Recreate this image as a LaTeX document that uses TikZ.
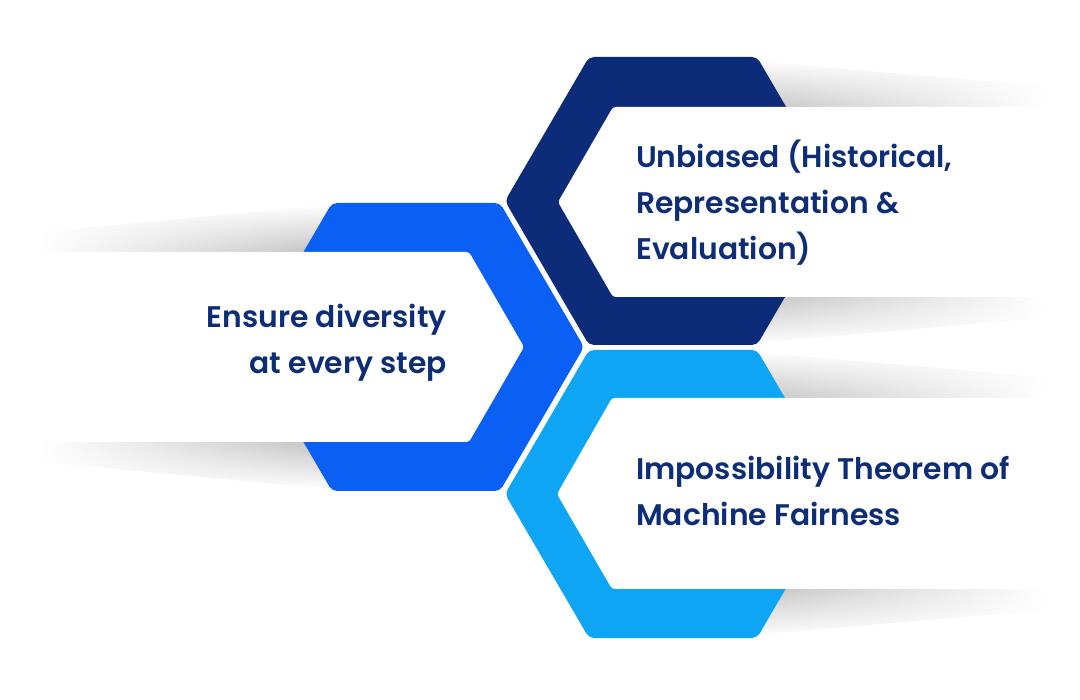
\documentclass[tikz,border=0pt]{standalone}
\usepackage{fontspec}
\usetikzlibrary{fadings}
\IfFontExistsTF{Poppins SemiBold}{\newfontfamily\lblfont{Poppins SemiBold}\newcommand\lblweight{}}{\newfontfamily\lblfont{Poppins}\newcommand\lblweight{\bfseries}}
\definecolor{hexdark}{RGB}{12,44,122}
\definecolor{hexblue}{RGB}{10,96,245}
\definecolor{hexlight}{RGB}{14,166,244}
\definecolor{txtnavy}{RGB}{13,45,118}
\tikzfading[name=shadowup, top color=transparent!100, middle color=transparent!70, bottom color=transparent!25]
\tikzfading[name=shadowdown, top color=transparent!25, middle color=transparent!70, bottom color=transparent!100]
\begin{document}
\begin{tikzpicture}[x=1pt,y=-1pt,
  hexa/.style={rounded corners=5pt},
  banner/.style={fill=white, rounded corners=3pt},
  lbl/.style={text=txtnavy, font=\lblfont\lblweight\fontsize{29.8}{46}\selectfont, inner sep=0pt},
]
\useasboundingbox[fill=white] (0,0) rectangle (1080,700);
% shadows
\shade[left color=black!32, right color=white, path fading=shadowup] (740,107) -- (740,60) -- (1045,86) -- (1045,107) -- cycle;
\shade[left color=black!32, right color=white, path fading=shadowdown] (740,297) -- (740,344) -- (1045,318) -- (1045,297) -- cycle;
\shade[left color=white, right color=black!32, path fading=shadowup] (330,252) -- (330,205) -- (40,232) -- (40,252) -- cycle;
\shade[left color=white, right color=black!32, path fading=shadowdown] (330,442) -- (330,489) -- (40,462) -- (40,442) -- cycle;
\shade[left color=black!32, right color=white, path fading=shadowup] (740,398) -- (740,351) -- (1045,377) -- (1045,398) -- cycle;
\shade[left color=black!32, right color=white, path fading=shadowdown] (740,589) -- (740,636) -- (1045,610) -- (1045,589) -- cycle;
% hexagons
\fill[hexdark, hexa] (589,57) -- (757,57) -- (841,201) -- (757,345) -- (589,345) -- (505,201) -- cycle;
\fill[hexblue, hexa] (332,203) -- (500,203) -- (584,347) -- (500,491) -- (332,491) -- (248,347) -- cycle;
\fill[hexlight, hexa] (589,350) -- (757,350) -- (841,494) -- (757,638) -- (589,638) -- (505,494) -- cycle;
% banners
\fill[banner] (613,107) -- (1080,107) -- (1080,297) -- (613,297) -- (558,202) -- cycle;
\fill[banner] (0,252) -- (469,252) -- (524,347) -- (469,442) -- (0,442) -- cycle;
\fill[banner] (612,398) -- (1080,398) -- (1080,589) -- (612,589) -- (557,494) -- cycle;
% labels
\node[lbl, anchor=west, align=left] (t1) at (636,203) {Unbiased (Historical,\\Representation \&\\Evaluation)};
\node[lbl, anchor=east, align=right] (t2) at (447,343) {Ensure diversity\\at every step};
\node[lbl, anchor=west, align=left] (t3) at (636,491) {Impossibility Theorem of\\Machine Fairness};
\end{tikzpicture}
\end{document}
